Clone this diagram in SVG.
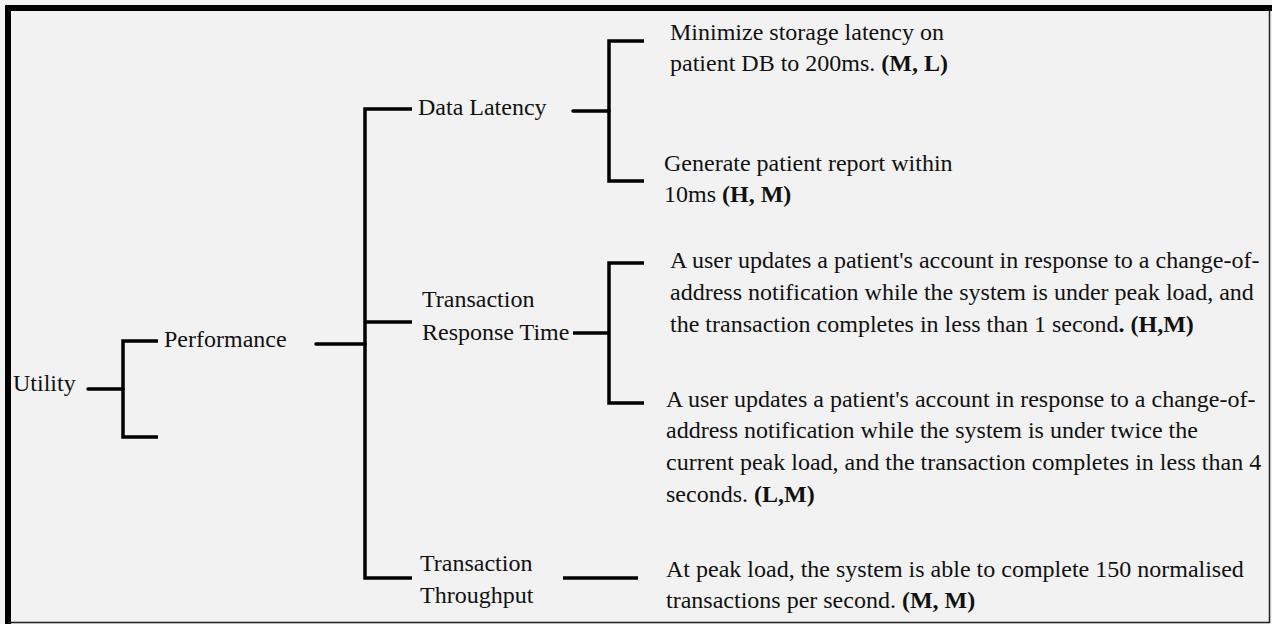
<svg xmlns="http://www.w3.org/2000/svg" width="1272" height="624" viewBox="0 0 1272 624">
<style>
.t text{font-family:"Liberation Serif","Times New Roman",serif;font-size:24px;fill:#111}
.b{font-weight:bold}
.c{fill:none;stroke:#000;stroke-width:3.5;stroke-linejoin:miter;stroke-linecap:butt}
.r{stroke-linecap:round}
</style>
<rect x="0" y="0" width="1272" height="624" fill="#f2f2f2"/>
<g id="frame">
<line x1="5" y1="8" x2="1272" y2="8" stroke="#000" stroke-width="6"/>
<line x1="8" y1="5" x2="8" y2="624" stroke="#000" stroke-width="6"/>
<line x1="1269.5" y1="10" x2="1269.5" y2="623" stroke="#222" stroke-width="1.5"/>
<line x1="8" y1="622.5" x2="1270" y2="622.5" stroke="#222" stroke-width="1.5"/>
</g>
<g id="connectors">
<line class="c r" x1="88" y1="389" x2="123" y2="389"/>
<polyline class="c" points="158,341 123,341 123,437 158,437"/>
<line class="c r" x1="316" y1="344" x2="365" y2="344"/>
<polyline class="c" points="412,109 365,109 365,578 412,578"/>
<line class="c" x1="365" y1="322" x2="412" y2="322"/>
<line class="c r" x1="573" y1="111" x2="609" y2="111"/>
<polyline class="c" points="644,41 609,41 609,181 644,181"/>
<line class="c" x1="573" y1="333" x2="609" y2="333"/>
<polyline class="c" points="644,263 609,263 609,403 644,403"/>
<line class="c" x1="563" y1="578" x2="638" y2="578"/>
</g>
<g class="t">
<g id="utility"><text x="13" y="391">Utility</text></g>
<g id="performance"><text x="164" y="347">Performance</text></g>
<g id="data-latency"><text x="418" y="115">Data Latency</text></g>
<g id="transaction-response-time"><text x="422" y="307">Transaction</text><text x="422" y="340">Response Time</text></g>
<g id="transaction-throughput"><text x="420" y="571">Transaction</text><text x="420" y="603">Throughput</text></g>
<g id="storage-latency"><text x="670" y="40">Minimize storage latency on</text><text x="670" y="71">patient DB to 200ms. <tspan class="b">(M, L)</tspan></text></g>
<g id="patient-report"><text x="664" y="171">Generate patient report within</text><text x="664" y="202">10ms <tspan class="b">(H, M)</tspan></text></g>
<g id="update-peak"><text x="670" y="268">A user updates a patient's account in response to a change-of-</text><text x="670" y="300">address notification while the system is under peak load, and</text><text x="670" y="332">the transaction completes in less than 1 second<tspan class="b">. (H,M)</tspan></text></g>
<g id="update-twice-peak"><text x="666" y="407">A user updates a patient's account in response to a change-of-</text><text x="666" y="438">address notification while the system is under twice the</text><text x="666" y="470">current peak load, and the transaction completes in less than 4</text><text x="666" y="502">seconds. <tspan class="b">(L,M)</tspan></text></g>
<g id="throughput-150"><text x="666" y="577">At peak load, the system is able to complete 150 normalised</text><text x="666" y="608">transactions per second. <tspan class="b">(M, M)</tspan></text></g>
</g>
</svg>
